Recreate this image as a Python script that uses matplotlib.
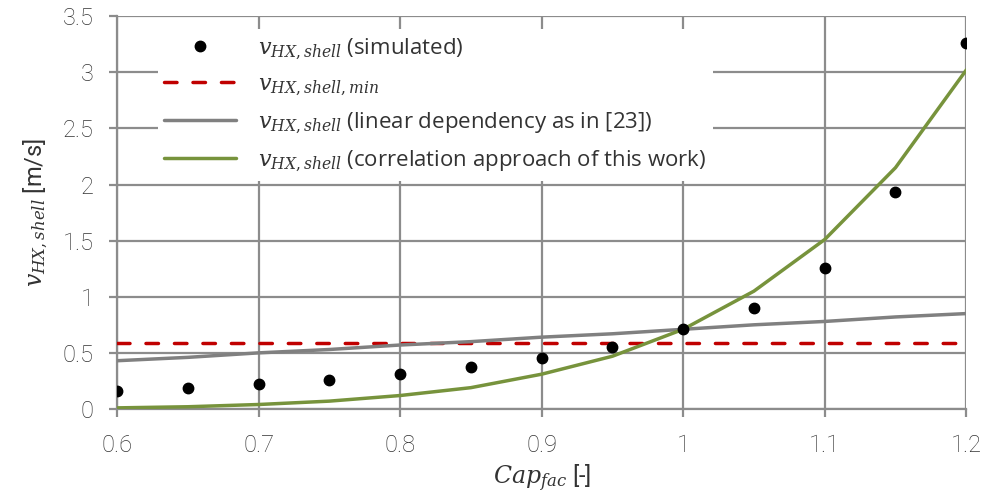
import matplotlib
matplotlib.use("Agg")
import matplotlib.pyplot as plt
from matplotlib.font_manager import FontProperties

plt.rcParams['font.family'] = ['Roboto', 'DejaVu Sans']
plt.rcParams['font.weight'] = 'light'
plt.rcParams['mathtext.fontset'] = 'dejavuserif'

cap_fac = [0.6, 0.65, 0.7, 0.75, 0.8, 0.85, 0.9, 0.95, 1.0, 1.05, 1.1, 1.15, 1.2]
v_simulated = [0.16, 0.19, 0.22, 0.26, 0.31, 0.37, 0.45, 0.55, 0.71, 0.90, 1.26, 1.93, 3.26]
v_min = [0.59] * len(cap_fac)
v_linear = [0.43, 0.46, 0.50, 0.53, 0.57, 0.60, 0.64, 0.67, 0.71, 0.75, 0.78, 0.82, 0.85]
v_correlation = [0.01, 0.02, 0.04, 0.07, 0.12, 0.19, 0.31, 0.47, 0.71, 1.05, 1.51, 2.15, 3.02]

x_ticks = [0.6, 0.7, 0.8, 0.9, 1.0, 1.1, 1.2]
x_tick_labels = ["0.6", "0.7", "0.8", "0.9", "1", "1.1", "1.2"]
y_ticks = [0, 0.5, 1, 1.5, 2, 2.5, 3, 3.5]
y_tick_labels = ["0", "0.5", "1", "1.5", "2", "2.5", "3", "3.5"]

grid_color = "#8c8c8c"
text_color = "#333333"
lw = 2.5

fig = plt.figure(figsize=(9.87, 5.04), dpi=100)
ax = fig.add_axes([0.1185, 0.1885, 0.8605, 0.7795])

ax.plot(cap_fac, v_simulated, linestyle="none", marker="o", markersize=7.5,
        color="black", label=r"$v_{HX,shell}$ (simulated)", zorder=5)
ax.plot(cap_fac, v_min, linestyle=(0, (3.6, 4.6)), color="#c00000", linewidth=lw,
        dash_capstyle="round", label=r"$v_{HX,shell,min}$", zorder=3)
ax.plot(cap_fac, v_linear, color="#808080", linewidth=lw, solid_capstyle="round",
        label=r"$v_{HX,shell}$ (linear dependency as in [23])", zorder=3)
ax.plot(cap_fac, v_correlation, color="#77933c", linewidth=lw, solid_capstyle="round",
        label=r"$v_{HX,shell}$ (correlation approach of this work)", zorder=4)

ax.set_xlim(0.6, 1.2)
ax.set_ylim(0, 3.5)
ax.set_xticks(x_ticks)
ax.set_xticklabels(x_tick_labels)
ax.set_yticks(y_ticks)
ax.set_yticklabels(y_tick_labels)

ax.grid(True, color=grid_color, linewidth=1.6, zorder=0)
ax.set_axisbelow(True)
for side in ("top", "right"):
    ax.spines[side].set_visible(False)
for side in ("left", "bottom"):
    ax.spines[side].set_color(grid_color)
    ax.spines[side].set_linewidth(1.6)
ax.tick_params(axis="both", colors=grid_color, length=6, width=1.6,
               labelsize=17, labelcolor=text_color)
ax.tick_params(axis="y", pad=11)
ax.tick_params(axis="x", pad=12)

ax.set_xlabel(r"$Cap_{fac}$ [-]", fontsize=17, color=text_color, labelpad=4)
ax.set_ylabel(r"$v_{HX,shell}$ [m/s]", fontsize=17, color=text_color, labelpad=9)

legend_font = FontProperties(family=["Open Sans", "DejaVu Sans"], weight="normal", size=16)
leg = ax.legend(loc="upper left", bbox_to_anchor=(0.035, 0.995), prop=legend_font,
                frameon=True, fancybox=False, framealpha=1.0, facecolor="white",
                edgecolor="none", handlelength=3.2, labelspacing=0.55,
                borderpad=0.3, handletextpad=1.0)
leg.set_zorder(10)
for t in leg.get_texts():
    t.set_color(text_color)

fig.savefig("out.png", dpi=100)
